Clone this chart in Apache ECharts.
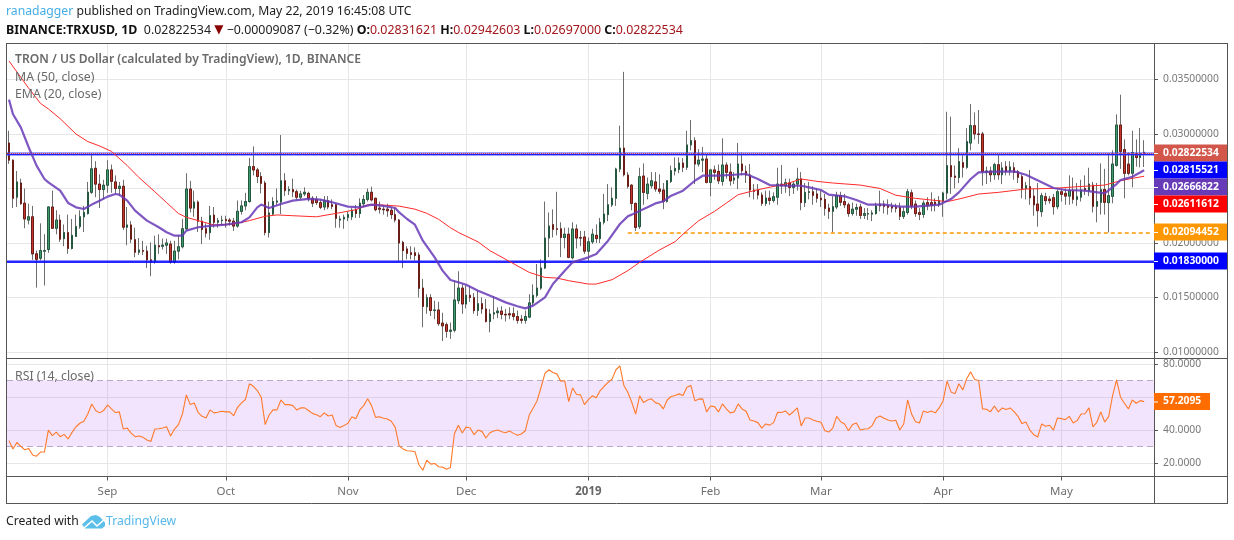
<!DOCTYPE html>
<html><head><meta charset="utf-8">
<style>html,body{margin:0;padding:0;background:#fff}#c{width:1234px;height:540px}</style>
<script src="https://cdn.jsdelivr.net/npm/echarts@6/dist/echarts.min.js"></script>
</head><body><div id="c"></div>
<script>
const priceUnit = 1e-4;
const startDate = '2018-08-07';
const tickIndex = [25,55,86,116,147,178,206,237,267];
const tickLabels = ['Sep','Oct','Nov','Dec','2019','Feb','Mar','Apr','May'];
const priceTicks = [0.01,0.015,0.02,0.025,0.03,0.035];
const rsiTicks = [20,40,60,80];
const rsiLabelTicks = [20,40,80];
// open, close, low, high (in priceUnit)
const candles = [
[291.7,276,272.5,303],[276,241,232,276.5],[242,256,233,266],[255,236,235,259],[236.5,222,213.5,250],[221,224,217,236],[224,190,184.5,234],[190,185,159,193],[186,193,184,218],[192.5,193,161,208],
[194,233,191,233.5],[233,213.5,213,248],[213.5,221,208,230],[221,203.5,201,226],[204,209.5,197,217],[209.5,195,190,226],[195,207,194,222],[206,215,206,226],[215,224,213,230],[224,228,210,234],
[227,246.5,226,256],[246.5,268,245,282],[268.5,254,242,275],[254,249,232,263],[249,253,240,258],[253,267,246,276],[267,256.5,246,272],[256,250,245,262],[250,252,243,256],[252,214.5,212,258],
[214.5,216.5,198,233],[216.5,203.5,200,220],[203,191.5,187,214],[191.5,193.5,189,204.5],[193,192.5,189,202],[192.5,184.5,177,197.5],[184.5,182.5,169.5,200.5],[183,198,181,206.7],[197.5,196.5,190,208],[197,198,194,204],
[198,200,190,204],[199,182.5,181,202],[182.5,192.5,181,202],[192.5,196.5,185,207],[196.5,213,195,222],[213,249.5,212,264],[249.5,232,228,257],[232,237.5,224,248],[237.5,220,210,239],[220,212.5,199,224],
[213,209,205,218],[209.5,225,203,234],[225.5,219,214,233],[219,220.5,214,223],[220.5,221,216,225],[221.5,220.5,214,225],[221,220,216,223],[220,215.5,211,223],[215.5,229,214,239],[229,234,226,239],
[234,238,230,246],[238,270,237,278],[270,267,262,288.6],[267,261,255,269],[261,254.7,245.5,265],[255,209.5,207,257],[209.5,227.5,205,238],[226.5,238,225,242],[237.5,238.5,235,250],[237.5,257,226.5,299],
[257,248,243,264],[248,249,244,252],[249,247,242,259],[247,242,240,249],[242,245,240,248],[245,246.5,243,251],[245.5,241,238,247],[241,236.5,233,243],[240,237,235,243],[237,232.7,231,240],
[233,238.8,230,243],[238.8,233,231,243],[235,233.5,231,240],[235,222.6,214,236],[221,222,214,225],[222,223.5,213,226],[223.5,226,220,229],[224,230,221,232],[230.5,227,223,235],[227,236.5,223,241],
[236,240,233,244],[240,246.5,238,250],[246.5,239.5,238,251.6],[241,230.5,229,241.5],[232,231,227,238],[231,230.5,226,234],[231,229.5,224,236],[230,226,222,233],[226,221,219,232],[221,200,183,222],
[200.5,193,177,202],[194.5,190.5,185,197],[191,189.5,185,197],[191,188.5,184,196],[189,158.4,150,191.4],[158.6,141.8,122.6,167],[141.5,149.8,135,153],[149.8,138,133,153],[138,138.5,130,147],[138.5,126,124,146],
[126.5,124,110,136],[125,119,113,127],[119,120,112,127],[120,147.7,118,165.4],[147,158.6,144,174],[158.6,144,135,162],[144,152,140,161],[152,150,146,160],[149.8,138,135,154],[138,144.3,133,156],
[144.3,139.4,135,150],[139.4,128,127,148.6],[128,134.8,118,139.4],[134.8,136,130,151],[136,137.5,131,141],[137.5,134.5,130,142],[134.5,134,128,139.5],[135,134,130,141],[135,132.6,129,141],[132.5,129,126,138],
[130,129,126,134],[129,132.5,126,138],[132,145,131,153],[145,152,143,162],[152,158.6,150,180.7],[158.6,177,157,185],[177,204.5,176,238],[204.5,215.5,187,228],[216.8,212.5,205,230.8],[213,212.5,207,247],
[213,205,187,219],[205,208,195,214],[208,186.8,186,214],[186.4,212.8,185,219],[212.8,204.5,195,217],[204.8,204.5,197,211],[205.5,192.5,190,211],[192.5,201,183,205],[201,208,199,213],[207,204,200,217],
[204,219,200,223],[219,226.5,217,245],[226,235,220,254],[235,241,233,251],[241,267.8,234,269],[267.8,287,265,307.6],[287,262.6,261,357],[262.3,252,250,265],[253,236.3,230,254],[236.3,214.3,211,237],
[215,260.8,212.8,269],[261.4,246.4,235,273],[245.5,254,240,260],[252.5,257,250,265],[256,249.5,247,265],[249.5,247.4,245,263],[248.6,238.2,231,255],[238.2,257,237,257.5],[256.5,266.3,255,271],[266,268.4,262,278.5],
[267.5,273.3,264,278.5],[273.3,269.4,265,278],[269.4,289.9,267,303],[290,293.8,285,312.8],[293.8,272.4,254,297],[272.4,276,270,286],[276,277,265,288],[277,255.6,254.7,281.6],[255.6,267,242.8,267.5],[267,264.8,258,271],
[265.7,257,254,272],[256.5,271.5,252.5,296],[271.5,264.8,259,274],[265,257,252.5,273],[257.8,259.6,254,265],[259.6,272.4,249.5,291.7],[272.4,266.3,262,283],[265.7,262.3,255,271],[262.3,248.6,242,272.4],[248.6,247.4,240,254],
[248.6,244,240,254],[244,236.3,234,246.4],[236.3,241.2,234,248],[241.2,239,235,248],[239,242.4,237,246.4],[242,254,235,269],[254,252.5,245,271.5],[252.5,255.3,246,259],[255,251,243,259],[251,254,245,256],
[254,258.7,248,269],[258.7,237,230,265],[237,246.4,233,255],[246.4,247,240,256],[247,243.7,235,252],[245,241,237,250],[241,239.7,233,248],[240,231.7,225,245],[232,229,222,236],[229,233.3,209.7,243],
[233,243.4,231,247],[243.4,237.3,234,247],[238,235,232,245],[235,227,224,237],[227,231,225,237],[231,232.5,225,236],[233,225.3,222,236],[225.3,227,222,232],[226.5,227,221,232],[226.5,227.5,220,230],
[227,234,226,237],[235.7,234,229,248],[235.5,233.6,227,239],[234,232.7,226,240],[233.6,232,228,237],[232.7,231.7,228,236],[232.7,224.4,221,237],[224.4,228.7,222,233],[228,247,226,249.5],[246,233.9,231,249],
[235.7,227,224,239],[227.8,226.2,221,232],[226.2,236.6,223,239],[237,234,230,242],[237,234.5,229,246.4],[237.5,235.4,229,241],[235.5,238.8,233,243],[238.2,245.8,224,247],[245.8,270.9,240,320.4],[270.9,260.8,245,315.9],
[261.4,260.2,250,271],[260,274.6,255,287],[273.7,269.4,260,281.6],[269.4,292.9,268,305.4],[291.7,307.6,285,327.5],[307.6,300,295,319.8],[300,299.5,291,322],[300,265.7,252.5,302],[265,266,254,270],[266,262.6,256,270],
[262.6,271.8,258,273.5],[271.8,262.6,258,280.7],[262.6,268.8,254,274],[270,266,262,275],[266.3,269.7,262,275],[269,264.8,258,274],[265.4,260.2,255,267],[260.8,250,241,263],[250,252.5,240,256],[251.6,241.5,235,267],
[243,235,225,250],[235.7,229.6,215,255],[228.7,243.4,224,246],[242.4,238.8,235,246],[240.3,238.8,236,243],[241.5,233.3,226,245],[233.3,247,231,249],[247,244.6,238,250],[245.5,243,235,250],[243,248,235,262],
[248,240,236,260],[240,242.4,234,255],[242,248.6,238,258],[250,248,244,262],[248,254,243,269],[253,233.6,228,256],[233.6,238,219,255],[237.3,248.9,226,273],[249,237.3,226,268],[237,243.4,209.7,282],
[242.8,272.4,236.4,285],[271.2,308.2,270,318],[308.2,284,268,336],[285.6,263.9,241,295],[272.4,263.9,262,283],[264,283,251,303],[282,278.5,270,295],[278.5,282,269.4,305.5],[283.2,282.25,269.7,294.3]
];
// [candle index, value in priceUnit]
const ma50 = [[0,367],[3,352],[5,342],[8,328],[10,323],[13,314],[17,300],[20,293],[23,289],[26,284],[30,271],[33,260],[37,247],[40,237],[43,227],[45,223.5],[49,219.5],[52,216.5],[57,217.4],[61,220.5],[65,224.5],[68,225.7],[72,225],[78,224],[82,226.5],[88,230.5],[91,235],[94,235],[99,233.8],[103,231],[106,227.2],[109,221.7],[112,214],[114,209.7],[119,201],[122,193],[127,183],[132,173],[136,168.4],[139,167.8],[142,165.4],[147,162.3],[149,162.3],[153,166.3],[157,174.6],[160,182.2],[165,193.5],[169,201.2],[172,211.3],[175,220.4],[179,229],[182,236.6],[185,244.3],[189,248],[192,250.4],[197,254],[201,258.7],[205,256.5],[209,255],[216,253.1],[221,250],[225,243.8],[230,240.9],[238,237.9],[241,240.3],[246,244.9],[251,246.4],[258,249.5],[265,250.1],[271,251.6],[278,253.1],[282,257.1],[285,259.3],[288,261.2]];
const ema20 = [[0,331.5],[1,318.3],[3,306.1],[5,287.8],[7,270.9],[9,258.7],[10,255.6],[13,248],[15,236.7],[17,232.7],[19,231.2],[21,235.2],[23,238.8],[25,242.5],[27,244.9],[28,244.3],[30,238.8],[32,229.7],[35,220.5],[38,214.4],[40,209.8],[42,206.7],[44,206.7],[45,211.3],[48,214.4],[51,215.6],[55,216.8],[59,219],[61,223.5],[63,232.7],[64,235.2],[66,232.1],[69,235.8],[72,238.8],[76,240.4],[79,239.7],[82,237.3],[86,233.3],[89,232.7],[92,235.2],[95,234],[98,232.1],[99,228],[101,222],[103,216.8],[105,202.1],[108,186.8],[110,174.6],[112,166],[114,163.9],[116,161.7],[119,156.2],[123,150.1],[126,145.5],[129,141.9],[131,140],[133,142.5],[136,150.1],[138,162.3],[141,174.6],[143,182.2],[147,186.8],[149,189.9],[152,202.1],[155,217.4],[157,224.4],[158,226],[162,232.7],[164,236.3],[166,238.2],[168,243.4],[171,248],[174,257.1],[176,261.7],[180,261.7],[184,262.6],[187,263.3],[190,258.7],[193,253.2],[197,252.5],[201,252.5],[203,251],[206,248.6],[208,244.3],[212,242.8],[215,239.4],[218,235.1],[222,235.1],[226,233.3],[230,233.3],[236,235.1],[239,240.3],[241,246.4],[244,258.7],[246,264.8],[250,265.4],[255,265.7],[258,262.6],[262,255.6],[265,250.4],[268,248.6],[273,248],[278,245.5],[281,254],[282,257.7],[285,260.8],[288,266.7]];
const rsi14 = [33.6,28.5,32.5,30.1,28.1,28.9,24.9,24.2,26.7,26.7,40,36.6,38.8,36,37.4,34.6,38.6,42,44.1,45.3,49.7,55.8,51.8,50.4,51.8,55.2,52.8,50.6,51,40.6,41.2,38.2,36,36.4,35.6,34,33.1,40.6,40.8,41.2,42,36.4,40.6,43.3,49.7,61.3,55.4,56.4,50.6,48.3,47.3,52.2,50.4,50.8,51.4,51,51,48.7,53.8,56.4,58.5,68,66.5,63.9,59.9,43.3,49.1,52.2,52.2,58.2,55.4,55.4,54.8,52.2,53.4,53.4,51.8,50.1,49.3,48.1,50.4,48.5,49.1,42.7,41.6,42.7,44.1,48.1,46.9,52.2,54.8,58.9,54.8,47.7,48.1,47.1,46.7,45.3,41.6,30.5,
28.5,27.5,27.3,26.9,19,15.7,21.8,19.4,19.8,17.8,17.6,16.3,17.4,37.6,42.9,38.2,41.9,41.2,37.2,40,39.2,35.2,38.4,39.4,40,39,38.4,39.4,38,36.8,37.6,39.6,49.1,53.4,57.8,65.9,74.4,76.5,74.8,74,69.6,69.8,57.2,65.5,61.5,61.3,55.4,58.4,60.7,59.5,63.9,66.5,68.8,70.8,76.5,78.9,67,62.9,56.8,49.7,60.7,56.6,58.2,58.9,56.6,55.8,52.8,58.2,60.3,60.9,61.9,60.9,65.9,67,57.8,58.7,58.9,51,54.6,54.2,51,55.8,52.8,50.4,51,55.8,52.8,51.4,46.1,45.5,44.5,41.2,43.7,43,44.5,50.8,50.6,51.6,49.1,51.1,53.4,42.5,47.3,47.3,
46.1,45.3,44.7,39.6,38.8,41.2,48.3,45,43.7,39.6,43.3,44.3,40,40.6,40.8,42.7,47.3,48.5,47.1,46.1,45.5,45.9,40,43.7,58.2,49.7,45,44.3,51.6,50.6,51.6,50.4,53.4,57.8,69.6,63.1,61.9,68,64.3,71.2,75.2,70.6,70,52.8,52.6,51,54.6,51,53.4,52.4,53.4,51.2,48.3,43.9,44.9,40,37.2,35.8,43.7,42.3,42.9,40,47.3,46.9,46.3,48.3,44.3,45.7,49.7,49.9,53.4,41.9,44.7,51,44.9,48.1,60.9,70.4,59.9,56.2,52.8,58.2,56.2,57.8,57.21];
const supportLevel = 0.0183, resistanceLevel = 0.02815521, lastClose = 0.02822534, orangeLevel = 0.02094452;
const orangeStart = 157;
const priceTags = [
 ['0.02822534','#d2574a',153],['0.02815521','#0000ff',170],['0.02666822','#673ab7',187],
 ['0.02611612','#ff0000',204],['0.02094452','#ff9800',232],['0.01830000','#0000ff',261]];
const rsiTag = ['57.2095','#ff6d00',401.5];

const SLOTS = 291, F = '"Noto Sans",sans-serif';
const GL = 7, GW = 1147, GR = 1154, FR = 1227;
const categories = Array.from({length:SLOTS},(_,i)=>{const d=new Date(startDate+'T00:00:00Z');d.setUTCDate(d.getUTCDate()+i);return d.toISOString().slice(0,10);});
const isTick = i => tickIndex.includes(i);
const labelOf = i => { const l = tickLabels[tickIndex.indexOf(i)] || ''; return l==='2019' ? '{y|'+l+'}' : l; };
const scale = v => +(v*priceUnit).toFixed(8);
const wickData = candles.map(c=>[scale(c[0]),scale(c[1]),scale(c[2]),scale(c[3])]);
const bodyData = candles.map(c=>[scale(c[0]),scale(c[1]),scale(Math.min(c[0],c[1])),scale(Math.max(c[0],c[1]))]);
const linePts = a => a.map(p=>[p[0],scale(p[1])]);
const GRID_LINE = '#e6e6e6', AX = '#555', GRAY = '#787878';

const xBase = g => ({type:'category',gridIndex:g,data:categories,boundaryGap:true,
  axisLine:{show:false},
  axisTick:{show:g===1,interval:i=>isTick(i),alignWithLabel:true,length:4,lineStyle:{color:AX}},
  axisLabel:{show:g===1,interval:i=>isTick(i),formatter:(v,i)=>labelOf(i),color:'#6f6f6f',margin:9,
    fontFamily:F,fontSize:11.5,rich:{y:{fontWeight:'bold',color:'#666',fontFamily:F,fontSize:11.5}}},
  splitLine:{show:true,interval:i=>isTick(i),alignWithLabel:true,lineStyle:{color:GRID_LINE,width:1}}});

const text = (x,y,t,style)=>({type:'text',silent:true,z:50,x,y,style:Object.assign({text:t,font:'12px '+F,fill:'#000',textVerticalAlign:'middle'},style)});
const hline=(x1,x2,y,c)=>({type:'line',silent:true,z:40,shape:{x1,y1:y,x2,y2:y},style:{stroke:c||AX,lineWidth:1}});
const vline=(x,y1,y2,c)=>({type:'line',silent:true,z:40,shape:{x1:x,y1,x2:x,y2},style:{stroke:c||AX,lineWidth:1}});
const tag=(t,c,y,w)=>[
 {type:'rect',silent:true,z:60,shape:{x:GR,y:y-8.5,width:w,height:17},style:{fill:c}},
 {type:'line',silent:true,z:61,shape:{x1:GR,y1:y+.5,x2:GR+4,y2:y+.5},style:{stroke:'#fff',lineWidth:1}},
 {type:'text',silent:true,z:62,x:GR+9,y:y,style:{text:t,font:'bold 10.3px '+F,fill:'#fff',textVerticalAlign:'middle'}}];

const graphic = [
 text(6,12,'{a|ranadagger}{b| published on TradingView.com, May 22, 2019 16:45:08 UTC}',{rich:{a:{fill:'#45aee6',font:'12.2px '+F},b:{fill:'#222',font:'12.2px '+F}}}),
 text(6,30,'{k|BINANCE:TRXUSD, 1D}{v|  0.02822534 }{t|▼}{v| −0.00009087 (−0.32%) }{k|O:}{r|0.02831621 }{k|H:}{r|0.02942603 }{k|L:}{r|0.02697000 }{k|C:}{r|0.02822534}',{rich:{
   k:{fill:'#111',font:'bold 12.4px '+F},v:{fill:'#222',font:'12.4px '+F},t:{fill:'#8b0000',font:'12px "DejaVu Sans"'},r:{fill:'#a3161c',font:'12.4px '+F}}}),
 text(15,60,'TRON / US Dollar (calculated by TradingView), 1D, BINANCE',{fill:'#6a6a6a',font:'600 12.1px '+F}),
 text(15,77,'MA (50, close)',{fill:'#6a6a6a',font:'12.3px '+F}),
 text(15,94,'EMA (20, close)',{fill:'#6a6a6a',font:'12.3px '+F}),
 text(15,376,'RSI (14, close)',{fill:'#6a6a6a',font:'12.3px '+F}),
 text(6,522,'Created with',{fill:'#222',font:'12.2px '+F}),
 text(106,522,'TradingView',{fill:'#55b8ea',font:'12.2px '+F}),
 {type:'polygon',silent:true,z:50,shape:{points:[[82,524.5],[91,516],[96,515],[100,517],[105,522.5],[105,526],[102,528.5],[85,528.5]]},style:{fill:'#5cbfe9'}},
 {type:'polyline',silent:true,z:51,shape:{points:[[84,528],[92,521],[97,526],[105,519]]},style:{stroke:'#fff',lineWidth:1.6,fill:null}},
 hline(6,FR,43.5), hline(6,FR,358.5), hline(6,FR,476.5), hline(6,FR,503.5),
 vline(6.5,43,504), vline(GR+.5,43,504), vline(FR+.5,43,504),
 ...priceTags.flatMap(p=>tag(p[0],p[1],p[2],FR-GR)),
 ...tag(rsiTag[0],rsiTag[1],rsiTag[2],56)
];

const levelLine=(data)=>({silent:true,symbol:'none',animation:false,precision:8,label:{show:false},emphasis:{disabled:true},data});
const option = {
 animation:false, backgroundColor:'#fff',
 grid:[{left:GL,top:43.5,width:GW,height:315,containLabel:false},{left:GL,top:359,width:GW,height:117.5}],
 xAxis:[xBase(0),xBase(1)],
 yAxis:[
  {type:'value',gridIndex:0,position:'right',min:0.0094,max:0.0383,scale:true,
   axisLine:{show:false},
   axisTick:{show:true,customValues:priceTicks,length:4,lineStyle:{color:AX}},
   axisLabel:{customValues:priceTicks,formatter:v=>v.toFixed(8),color:GRAY,fontFamily:F,fontSize:10.3,margin:9},
   splitLine:{show:true,lineStyle:{color:GRID_LINE}}},
  {type:'value',gridIndex:1,position:'right',min:11.9,max:83,
   axisLine:{show:false},
   axisTick:{show:true,customValues:rsiTicks,length:4,lineStyle:{color:AX}},
   axisLabel:{customValues:rsiLabelTicks,formatter:v=>v.toFixed(4),color:GRAY,fontFamily:F,fontSize:10.3,margin:9},
   splitLine:{show:true,lineStyle:{color:GRID_LINE}}}],
 graphic,
 series:[
  {name:'wick',type:'candlestick',xAxisIndex:0,yAxisIndex:0,data:wickData,barWidth:2,z:3,silent:true,
   itemStyle:{color:'#6e6e6e',color0:'#6e6e6e',borderColor:'#6e6e6e',borderColor0:'#6e6e6e',borderWidth:1}},
  {name:'TRXUSD',type:'candlestick',xAxisIndex:0,yAxisIndex:0,data:bodyData,barWidth:2,z:4,silent:true,
   itemStyle:{color:'#3f9a6c',color0:'#c4362b',borderColor:'#24573f',borderColor0:'#6a1d16',borderWidth:1},
   markLine:levelLine([
    {yAxis:resistanceLevel,lineStyle:{color:'rgba(70,70,255,.5)',width:4,type:'solid'}},
    {yAxis:resistanceLevel,lineStyle:{color:'#2020ff',width:1,type:'solid'}},
    {yAxis:lastClose,lineStyle:{color:'#e0402f',width:1,type:'dotted'}},
    {yAxis:supportLevel,lineStyle:{color:'rgba(40,40,255,.5)',width:3,type:'solid'}},
    {yAxis:supportLevel,lineStyle:{color:'#0000ff',width:1.5,type:'solid'}},
    [{coord:[orangeStart,orangeLevel],lineStyle:{color:'#ff9800',width:1.5,type:[4,3]}},{coord:[SLOTS-1,orangeLevel]}]
   ])},
  {name:'MA 50',type:'line',xAxisIndex:0,yAxisIndex:0,data:linePts(ma50),showSymbol:false,silent:true,z:5,lineStyle:{color:'#ff2a2a',width:1}},
  {name:'EMA 20',type:'line',xAxisIndex:0,yAxisIndex:0,data:linePts(ema20),showSymbol:false,silent:true,z:6,lineStyle:{color:'#673ab7',width:2.2,opacity:.85}},
  {name:'RSI 14',type:'line',xAxisIndex:1,yAxisIndex:1,data:rsi14,showSymbol:false,silent:true,z:6,lineStyle:{color:'#ff7a2a',width:1.1},
   markArea:{silent:true,animation:false,itemStyle:{color:'rgba(190,120,245,.2)'},data:[[{yAxis:70},{yAxis:30}]]},
   markLine:levelLine([{yAxis:70,lineStyle:{color:'#b9a9c4',type:[6,4],width:1}},{yAxis:30,lineStyle:{color:'#b9a9c4',type:[6,4],width:1}}])}
 ]
};
const chart = echarts.init(document.getElementById('c'),null,{renderer:'canvas',width:1234,height:540});
chart.setOption(option);
</script></body></html>
